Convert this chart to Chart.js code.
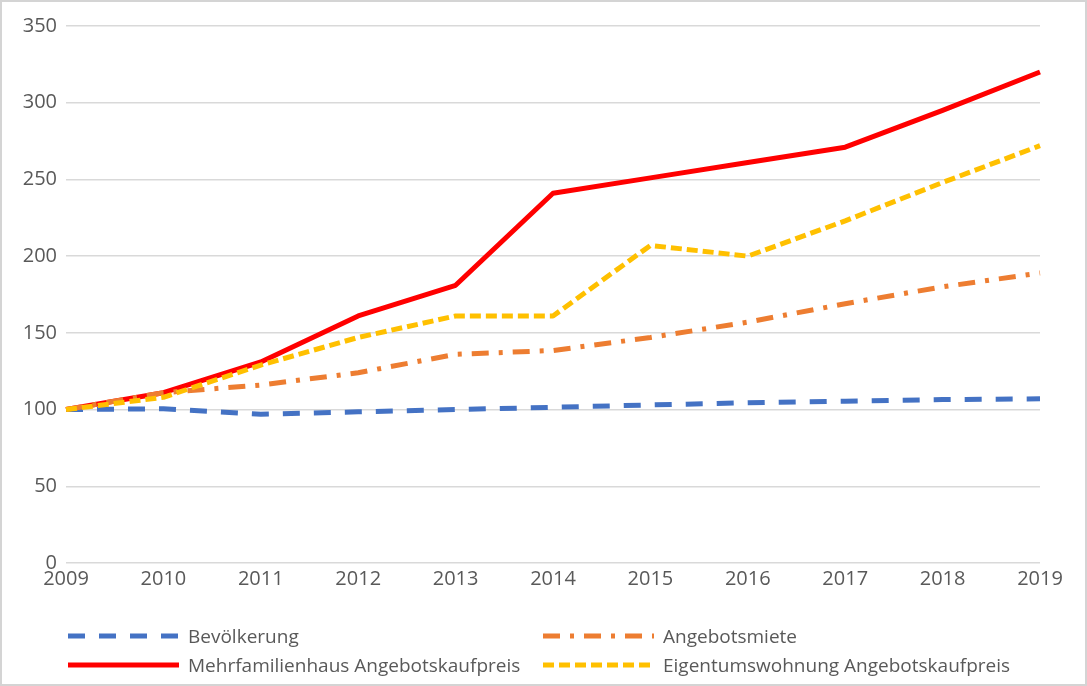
<!DOCTYPE html>
<html>
<head>
<meta charset="utf-8">
<script src="https://cdn.jsdelivr.net/npm/chart.js@4"></script>
<style>
  html, body { margin: 0; padding: 0; background: #fff; }
  #wrap { position: relative; width: 1087px; height: 686px; overflow: hidden; }
  #frame { position: absolute; left: 0; top: 0; width: 1087px; height: 686px; box-sizing: border-box;
           border: 2px solid #d4d4d4; pointer-events: none; }
  .item { position: absolute; height: 24px; display: flex; align-items: center; }
  .item canvas { display: block; margin-right: 9px; }
  .item span { font-family: "Open Sans", sans-serif; font-size: 19px; color: #595959; white-space: nowrap; }
</style>
</head>
<body>
<div id="wrap">
  <canvas id="lineChart" width="1087" height="686"></canvas>
  <div id="legend"></div>
  <div id="frame"></div>
</div>
<script>
var years = ['2009', '2010', '2011', '2012', '2013', '2014', '2015', '2016', '2017', '2018', '2019'];
var bevoelkerung = [100, 100.5, 97, 98.5, 100, 101.5, 103, 104.5, 105.5, 106.5, 107];
var angebotsmiete = [100, 111, 116, 124, 136, 138.5, 147, 157, 169, 180, 189];
var mfhKaufpreis = [100, 111, 131, 161, 181, 241, 251, 261, 271, 295, 320];
var etwKaufpreis = [100, 108, 129, 147, 161, 161, 207, 200, 223, 248, 272];

var seriesNames = ['Bevölkerung', 'Angebotsmiete', 'Mehrfamilienhaus Angebotskaufpreis', 'Eigentumswohnung Angebotskaufpreis'];

var gray = '#595959';

var datasets = [
  { label: seriesNames[0], data: bevoelkerung, borderColor: '#4472c4', borderDash: [17, 14], order: 3 },
  { label: seriesNames[1], data: angebotsmiete, borderColor: '#ed7d31', borderDash: [17, 10, 4, 10], order: 2 },
  { label: seriesNames[2], data: mfhKaufpreis, borderColor: '#ff0000', borderDash: [], order: 4 },
  { label: seriesNames[3], data: etwKaufpreis, borderColor: '#ffc000', borderDash: [11, 5], order: 1 }
];
datasets.forEach(function(d) {
  d.borderWidth = 5;
  d.pointRadius = 0;
  d.tension = 0;
  d.fill = false;
  d.borderCapStyle = 'butt';
  d.borderJoinStyle = 'round';
});

var ctx = document.getElementById('lineChart');
new Chart(ctx, {
  type: 'line',
  data: { labels: years, datasets: datasets },
  options: {
    responsive: false,
    animation: false,
    layout: { padding: { top: 26, right: 47, bottom: 0, left: 0 } },
    plugins: { legend: { display: false }, tooltip: { enabled: false } },
    scales: {
      x: {
        offset: false,
        grid: { display: false, drawTicks: false },
        border: { display: false },
        ticks: { color: gray, padding: 4, maxRotation: 0, font: { family: 'Open Sans', size: 20 } },
        afterFit: function(s) { s.height = 123; }
      },
      y: {
        min: 0,
        max: 350,
        grid: { color: '#d9d9d9', lineWidth: 1.5, drawTicks: false },
        border: { display: false },
        ticks: { stepSize: 50, color: gray, padding: 9, font: { family: 'Open Sans', size: 20 } },
        afterFit: function(s) { s.width = 66; }
      }
    }
  }
});

// legend in two columns, lines drawn with the dataset styles
var legendPos = [[68, 624], [543, 624], [68, 653], [543, 653]];
var legend = document.getElementById('legend');
datasets.forEach(function(d, i) {
  var item = document.createElement('div');
  item.className = 'item';
  item.style.left = legendPos[i][0] + 'px';
  item.style.top = legendPos[i][1] + 'px';
  var c = document.createElement('canvas');
  c.width = 111; c.height = 10;
  var g = c.getContext('2d');
  g.strokeStyle = d.borderColor;
  g.lineWidth = 5;
  g.setLineDash(d.borderDash);
  g.beginPath(); g.moveTo(0, 5); g.lineTo(111, 5); g.stroke();
  var t = document.createElement('span');
  t.textContent = d.label;
  item.appendChild(c);
  item.appendChild(t);
  legend.appendChild(item);
});
</script>
</body>
</html>
